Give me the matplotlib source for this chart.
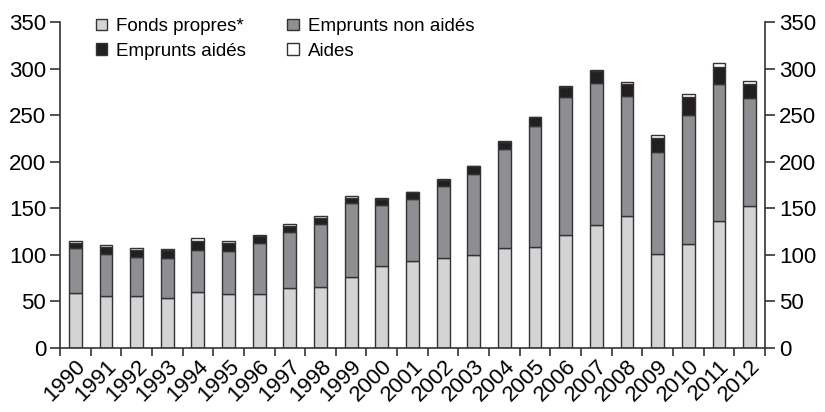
import matplotlib
matplotlib.use("Agg")
import matplotlib.pyplot as plt
import numpy as np

plt.rcParams['font.family'] = ['Liberation Sans', 'DejaVu Sans']

# --- DONNÉES ---
years = [str(y) for y in range(1990, 2013)]
fonds_propres = [58.5, 55.5, 55.5, 53.5, 59.5, 58, 58, 64, 65, 76, 88, 93, 96.5,
                 100, 107, 108.5, 121.5, 132, 142, 101, 111, 136.5, 152]
emprunts_non_aides = [49, 45.5, 42, 43, 46, 46, 54, 60, 68, 79, 65, 67, 77.5,
                      87, 107, 130, 148, 152.5, 129, 109, 139, 147, 116]
emprunts_aides = [5, 7, 7.5, 8, 9.5, 9, 8, 6.5, 6.5, 6, 7, 7, 6.5,
                  8, 7, 9, 10.5, 12.7, 12, 15, 19, 18.5, 15.5]
aides = [2, 2, 2, 2, 2.5, 1.5, 1.5, 2, 2, 1.5, 0.6, 0.6, 0.6,
         0.6, 0.6, 0.7, 0.7, 0.7, 2.5, 3.5, 3.5, 3.5, 3]

series = [
    ("Fonds propres*", fonds_propres, "#d4d4d6"),
    ("Emprunts non aidés", emprunts_non_aides, "#8e8f92"),
    ("Emprunts aidés", emprunts_aides, "#231f20"),
    ("Aides", aides, "#ffffff"),
]

edge = "#333333"
fig = plt.figure(figsize=(8.25, 4.12), dpi=100)
ax = fig.add_axes([0.0727, 0.156, 0.8545, 0.7906])

x = np.arange(len(years))
bottom = np.zeros(len(years))
bars = {}
for label, vals, color in series:
    vals = np.array(vals, dtype=float)
    bars[label] = ax.bar(x, vals, width=0.42, bottom=bottom, color=color,
                         edgecolor=edge, linewidth=1.0, label=label)
    bottom += vals

ax.set_xlim(-0.5, len(years) - 0.5)
ax.set_ylim(0, 350)
ax.set_yticks(range(0, 351, 50))

# graduations de l'axe X entre les barres, étiquettes au centre
ax.set_xticks(np.arange(-0.5, len(years), 1.0))
ax.set_xticklabels([])
ax.set_xticks(x, minor=True)
ax.set_xticklabels(years, minor=True, rotation=45, ha='right',
                   rotation_mode='anchor', fontsize=16)
ax.tick_params(axis='x', which='minor', length=0, pad=6)
ax.tick_params(axis='x', which='major', length=6, width=1.2, color=edge, direction='out')
ax.tick_params(axis='y', which='major', length=7, width=1.2, color=edge,
               direction='out', labelsize=16, left=True, right=True,
               labelleft=True, labelright=True, pad=3)

for side in ['left', 'right', 'bottom']:
    ax.spines[side].set_color(edge)
    ax.spines[side].set_linewidth(1.2)
ax.spines['top'].set_visible(False)

# légende sur deux colonnes (ordre par colonne)
order = ["Fonds propres*", "Emprunts aidés", "Emprunts non aidés", "Aides"]
ax.legend([bars[k] for k in order], order, ncol=2, frameon=False,
          loc='upper left', bbox_to_anchor=(0.04, 1.035), fontsize=13.5,
          handlelength=0.6, handleheight=0.6, handletextpad=0.5,
          columnspacing=2.2, labelspacing=0.42, borderaxespad=0)

fig.savefig("out.png", dpi=100)
